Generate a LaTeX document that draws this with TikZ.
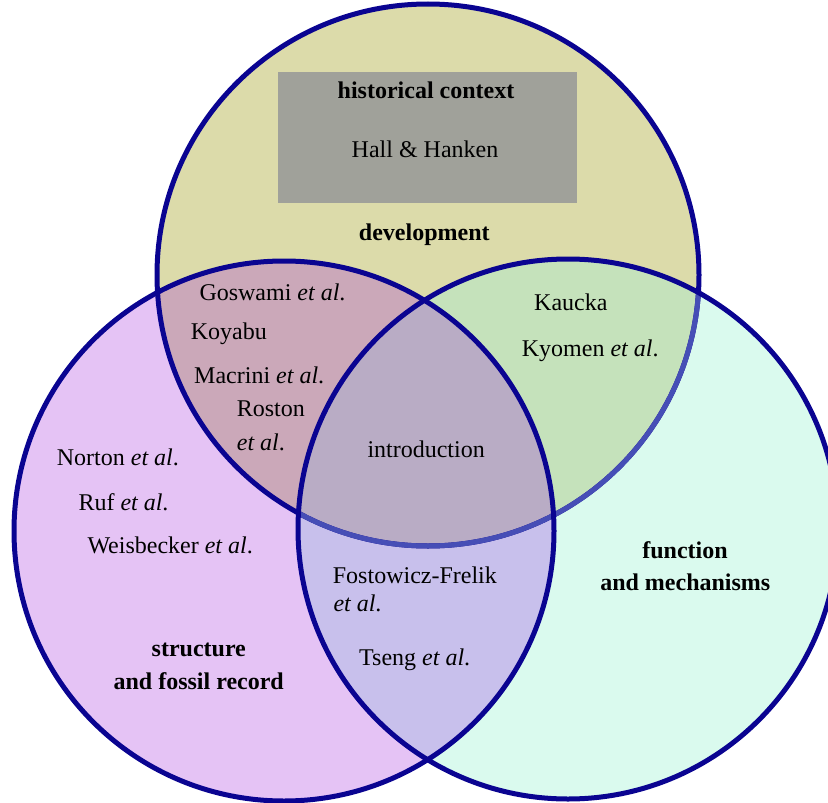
\documentclass[tikz,border=0pt]{standalone}
\usepackage{fontspec}
\setmainfont{Liberation Serif}
\definecolor{ckhaki}{RGB}{220,219,170}
\definecolor{cviolet}{RGB}{229,195,245}
\definecolor{cmint}{RGB}{218,250,238}
\definecolor{cmauve}{RGB}{203,168,185}
\definecolor{cgreen}{RGB}{197,226,187}
\definecolor{clav}{RGB}{200,192,236}
\definecolor{ccenter}{RGB}{185,172,197}
\definecolor{cgray}{RGB}{160,161,154}
\definecolor{cedge}{RGB}{10,4,145}
\definecolor{cedgelight}{RGB}{70,78,182}
\begin{document}
\begin{tikzpicture}[x=1pt,y=-1pt,
  edge/.style={draw=cedge, line width=5pt},
  edgelight/.style={draw=cedgelight, line width=5pt},
  lbl/.style={inner sep=0pt, anchor=base west, font=\fontsize{24}{28}\selectfont},
  ttl/.style={inner sep=0pt, anchor=base, font=\fontsize{24}{28}\selectfont\bfseries}]
\useasboundingbox (0,0) rectangle (828,803);
\clip (0,0) rectangle (828,803);
\coordinate (ct) at (428,275);
\coordinate (cl) at (284,531);
\coordinate (cr) at (568,529);
\def\Tc{(ct) circle (271)}
\def\Lc{(cl) circle (270)}
\def\Rc{(cr) circle (270)}
% fills
\fill[ckhaki] \Tc;
\fill[cviolet] \Lc;
\fill[cmint] \Rc;
\begin{scope}\clip \Tc; \fill[cmauve] \Lc; \end{scope}
\begin{scope}\clip \Tc; \fill[cgreen] \Rc; \end{scope}
\begin{scope}\clip \Lc; \fill[clav] \Rc; \end{scope}
\begin{scope}\clip \Tc; \clip \Lc; \fill[ccenter] \Rc; \end{scope}
% historical box
\node[fill=cgray, inner sep=0pt, minimum width=299, minimum height=131] (hist) at (427.5,137.5) {};
% strokes
\draw[edge] \Tc;
\begin{scope}\clip \Rc; \draw[edgelight] \Tc; \end{scope}
\draw[edge] \Lc;
\draw[edge] \Rc;
% titles
\node[ttl] (thist) at (426,98) {historical context};
\node[lbl, anchor=base] (hall) at (425,157.7) {Hall \& Hanken};
\node[ttl] (tdev) at (424.3,240.7) {development};
\node[ttl] (tstruct) at (198.8,656.7) {structure};
\node[ttl] (tfossil) at (198.7,689.3) {and fossil record};
\node[ttl] (tfunc) at (685,558.3) {function};
\node[ttl] (tmech) at (685.3,590.7) {and mechanisms};
% labels
\node[lbl] (gos) at (199.3,300.7) {Goswami \textit{et al}.};
\node[lbl] (koy) at (190.7,339) {Koyabu};
\node[lbl] (mac) at (194,383) {Macrini \textit{et al}.};
\node[lbl] (ros) at (236.7,416.7) {Roston};
\node[lbl] (rosb) at (236.7,450.7) {\textit{et al}.};
\node[lbl] (nor) at (56.7,465) {Norton \textit{et al}.};
\node[lbl] (ruf) at (78.3,510) {Ruf \textit{et al}.};
\node[lbl] (wei) at (87.3,553) {Weisbecker \textit{et al}.};
\node[lbl] (kau) at (534,310) {Kaucka};
\node[lbl] (kyo) at (521.7,356) {Kyomen \textit{et al}.};
\node[lbl] (intro) at (367.3,457.3) {introduction};
\node[lbl] (fos) at (332.7,583.3) {Fostowicz-Frelik};
\node[lbl] (fosb) at (333.3,611.7) {\textit{et al}.};
\node[lbl] (tse) at (359,665) {Tseng \textit{et al}.};
\end{tikzpicture}
\end{document}
